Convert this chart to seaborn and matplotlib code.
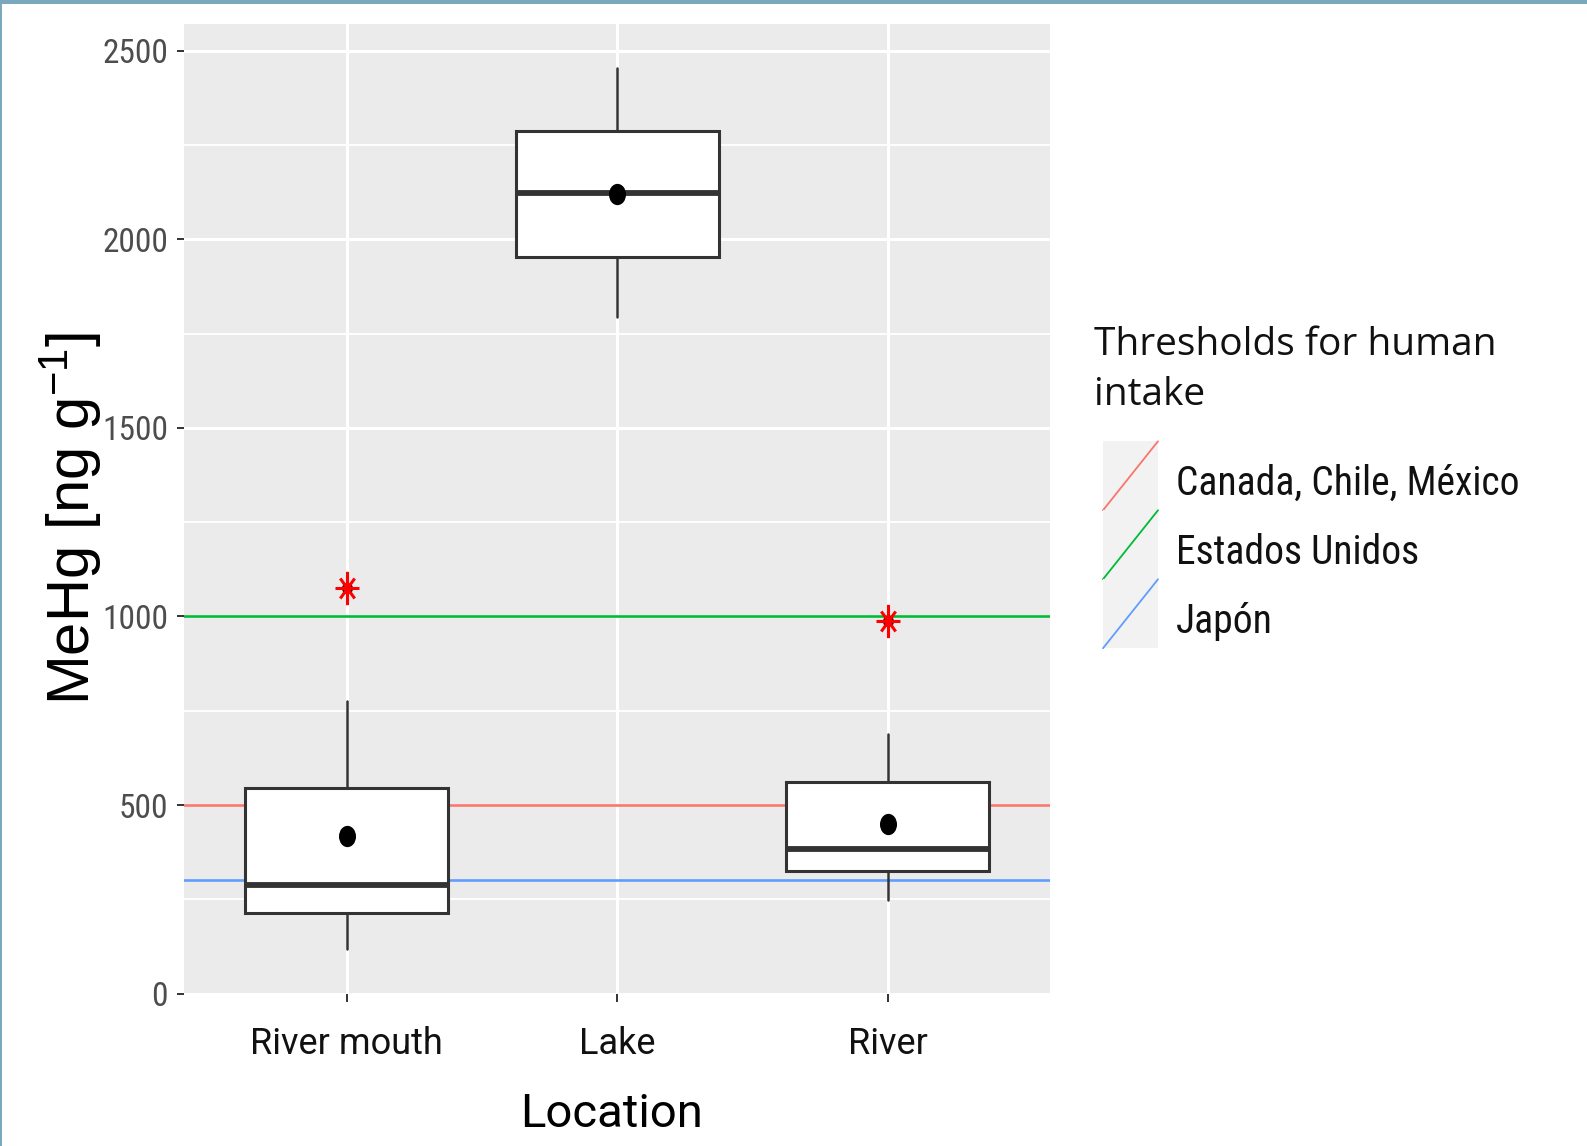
import numpy as np
import matplotlib
matplotlib.use("Agg")
import matplotlib.pyplot as plt
import seaborn as sns
from matplotlib.path import Path
from matplotlib.lines import Line2D
from matplotlib.patches import Rectangle
from matplotlib.legend_handler import HandlerBase
from matplotlib.font_manager import FontProperties, fontManager
from matplotlib.ticker import MultipleLocator, FixedLocator

# ---------------- data ----------------
locations = ["River mouth", "Lake", "River"]
whisker_low = [117, 1794, 249]
q1 = [215, 1953, 326]
median = [289, 2122, 384]
q3 = [546, 2287, 562]
whisker_high = [776, 2454, 689]
means = [419, 2121, 450]
outlier_loc = ["River mouth", "River"]
outlier_val = [1076, 988]

threshold_labels = ["Canada, Chile, México", "Estados Unidos", "Japón"]
threshold_values = [500, 1000, 300]
threshold_colors = ["#F8766D", "#00BA38", "#619CFF"]
y_ticks = [0, 500, 1000, 1500, 2000, 2500]

# ---------------- fonts ----------------
_names = {f.name for f in fontManager.ttflist}
def pick(*cands):
    for c in cands:
        if c in _names:
            return c
    return "DejaVu Sans"

ARIAL = pick("Liberation Sans", "DejaVu Sans")
ROBOTO = pick("Roboto", "Liberation Sans")
OPEN = pick("Open Sans", "Noto Sans", "DejaVu Sans")

def _is_regular(f):
    return f.style == "normal" and f.weight in (400, "normal", "regular", "book")

def find_narrow():
    pref = ["Liberation Sans Narrow", "Arial Narrow", "Roboto Condensed",
            "Noto Sans Condensed", "Noto Sans SemiCondensed", "Open Sans Condensed"]
    for p in pref:
        for f in fontManager.ttflist:
            if f.name == p and _is_regular(f):
                return FontProperties(fname=f.fname)
    for f in fontManager.ttflist:
        if (f.stretch in ("condensed", "semi-condensed") and _is_regular(f)
                and f.name in ("Liberation Sans", "Noto Sans", "Open Sans", "Roboto")):
            return FontProperties(fname=f.fname)
    return FontProperties(family=ROBOTO)

NARROW_FP = find_narrow()

sns.set_theme(style="darkgrid", rc={"axes.facecolor": "#EBEBEB", "grid.color": "white"})
plt.rcParams["font.family"] = [ARIAL, "DejaVu Sans"]
plt.rcParams["mathtext.fontset"] = "custom"
plt.rcParams["mathtext.rm"] = ARIAL
plt.rcParams["mathtext.it"] = ARIAL
plt.rcParams["mathtext.bf"] = ARIAL

W, H = 1587, 1146
fig = plt.figure(figsize=(W / 100, H / 100), dpi=100)
fig.patch.set_facecolor("white")
renderer = fig.canvas.get_renderer()

def fit_size(s, fp, target_px, base=20.0):
    f2 = fp.copy()
    f2.set_size(base)
    t = fig.text(0, 0, s, fontproperties=f2)
    w = t.get_window_extent(renderer=renderer).width
    t.remove()
    return base * target_px / w

ytick_size = fit_size("2500", NARROW_FP, 66)
leg_size = fit_size("Canada, Chile, México", NARROW_FP, 342)

pl, pr, pt, pb = 184.3, 1050, 24, 994
ax = fig.add_axes([pl / W, 1 - pb / H, (pr - pl) / W, (pb - pt) / H])
ax.set_facecolor("#EBEBEB")
for s in ax.spines.values():
    s.set_visible(False)

pos = np.arange(len(locations))

# grid
ax.set_axisbelow(True)
ax.yaxis.set_major_locator(FixedLocator(y_ticks))
ax.yaxis.set_minor_locator(MultipleLocator(250))
ax.grid(which="major", color="white", linewidth=2.2)
ax.grid(which="minor", axis="y", color="white", linewidth=1.3)
ax.grid(which="minor", axis="x", visible=False)

# threshold lines
lines = []
for v, c, lab in zip(threshold_values, threshold_colors, threshold_labels):
    ln = ax.axhline(v, color=c, linewidth=1.9, label=lab, zorder=2)
    lines.append(ln)

# boxes
stats = []
for i, lab in enumerate(locations):
    stats.append(dict(label=lab, whislo=whisker_low[i], q1=q1[i], med=median[i],
                      q3=q3[i], whishi=whisker_high[i], fliers=[]))
ax.bxp(stats, positions=pos, widths=0.75, patch_artist=True, showcaps=False,
       showfliers=False, showmeans=False,
       boxprops=dict(facecolor="white", edgecolor="#333333", linewidth=2.2),
       whiskerprops=dict(color="#333333", linewidth=1.8),
       medianprops=dict(color="#333333", linewidth=4.2, solid_capstyle="butt"),
       zorder=3)

# mean points (slightly tall ellipse)
uc = Path.unit_circle()
ellipse = Path(uc.vertices * np.array([0.8, 1.0]), uc.codes)
sns.scatterplot(x=pos, y=means, marker=ellipse, s=235, color="black",
                linewidth=0, ax=ax, zorder=5, legend=False)

# outliers: dark dot + red asterisk
opos = [locations.index(l) for l in outlier_loc]
verts, codes = [], []
for ang, r in [(0, 1.0), (90, 1.0), (45, 0.85), (135, 0.85)]:
    t = np.deg2rad(ang)
    dx, dy = 0.72 * r * np.cos(t), r * np.sin(t)
    verts += [(-dx, -dy), (dx, dy)]
    codes += [Path.MOVETO, Path.LINETO]
asterisk = Path(verts, codes)
ax.plot(opos, outlier_val, linestyle="none", marker="o", markersize=7,
        color="#3a0000", zorder=6)
ax.plot(opos, outlier_val, linestyle="none", marker=asterisk, markersize=24,
        markerfacecolor="none", markeredgecolor="#FF0000", markeredgewidth=2.2, zorder=7)

# axes
ax.set_xlim(-0.6, len(locations) - 0.4)
ax.set_ylim(-1, 2570.6)
ax.set_xticks(pos)
ax.set_xticklabels(locations)
ax.tick_params(axis="y", which="major", length=5.3, width=1.4, color="#333333",
               pad=6.5, labelcolor="#4D4D4D", left=True)
ax.tick_params(axis="y", which="minor", length=0)
ax.tick_params(axis="x", which="major", length=6, width=1.4, color="#333333",
               pad=17, labelsize=26, labelcolor="#111111", bottom=True)
yfp = NARROW_FP.copy()
yfp.set_size(ytick_size)
for t in ax.get_yticklabels():
    t.set_fontproperties(yfp)
for t in ax.get_xticklabels():
    t.set_fontfamily(ROBOTO)
    t.set_fontsize(26)

ax.set_ylabel(r"MeHg [ng g$^{-1}$]", fontsize=43, fontfamily=ARIAL, color="black")
ax.yaxis.set_label_coords(-0.132, 0.49)
ax.yaxis.label.set_va("center")
ax.set_xlabel("Location", fontsize=34, fontfamily=ROBOTO, color="black", labelpad=21.5)
ax.xaxis.label.set_x(0.493)

# legend with diagonal keys (ggplot abline style)
class HandlerDiag(HandlerBase):
    def __init__(self, off_pt, dy_pt):
        super().__init__()
        self.off = off_pt
        self.dy = dy_pt
    def create_artists(self, legend, orig_handle, xdescent, ydescent, width, height,
                       fontsize, trans):
        x0 = -xdescent + self.off
        w = width - self.off
        y0 = -ydescent + self.dy
        bg = Rectangle((x0, y0), w, height, facecolor="#F2F2F2",
                       edgecolor="none", transform=trans)
        ln = Line2D([x0, x0 + w], [y0, y0 + height],
                    color=orig_handle.get_color(), linewidth=1.3, transform=trans)
        return [bg, ln]

fs = leg_size
key_h_pt = 69 * 0.72
hh = (key_h_pt / fs - 0.245) / 0.65
hl = (64 * 0.72) / fs
htp = (18 * 0.72) / fs
lfp = NARROW_FP.copy()
lfp.set_size(fs)
leg = fig.legend(handles=lines, labels=threshold_labels,
                 handler_map={l: HandlerDiag(9 * 0.72, 5.0) for l in lines},
                 loc="upper left", bbox_to_anchor=(1094 / W, 1 - 326 / H),
                 frameon=False, prop=lfp,
                 title="Thresholds for human\nintake",
                 title_fontproperties=FontProperties(family=OPEN, size=28),
                 alignment="left", handlelength=hl, handleheight=hh,
                 labelspacing=0, handletextpad=htp, borderpad=0, borderaxespad=0)
leg.get_title().set_linespacing(1.42)
leg.get_title().set_color("#111111")
leg._legend_box.sep = 24.5
for t in leg.get_texts():
    t.set_color("#111111")

# image border (top bar + left line)
fig.add_artist(Rectangle((0, 1 - 4 / H), 1, 4 / H, transform=fig.transFigure,
                         facecolor="#7AA8BC", edgecolor="none", zorder=10))
fig.add_artist(Rectangle((0, 0), 2 / W, 1, transform=fig.transFigure,
                         facecolor="#7AA8BC", edgecolor="none", zorder=10))

fig.savefig("out.png", dpi=100)
